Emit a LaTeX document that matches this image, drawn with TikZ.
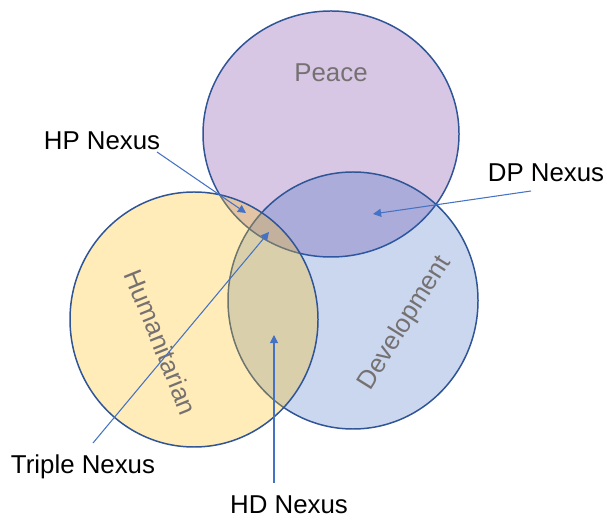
\documentclass[tikz,border=0pt]{standalone}
\usepackage{fontspec}
\setmainfont{Liberation Sans}
\usetikzlibrary{arrows.meta}

\definecolor{ringblue}{HTML}{2F5597}
\definecolor{arrowblue}{HTML}{4472C4}
\definecolor{peacefill}{HTML}{D7C7E5}
\definecolor{devfill}{HTML}{2B5FBB}
\definecolor{humfill}{HTML}{FFBF13}
\definecolor{labelgray}{HTML}{767171}

\tikzset{
  ring/.style={draw=ringblue, line width=0.85pt},
  pointer/.style={arrowblue, line width=0.6pt, -{Triangle[length=4.6pt,width=4.6pt]}},
  nexus/.style={font=\fontsize{14.7}{17}\selectfont, inner sep=0pt},
  setname/.style={text=labelgray, font=\fontsize{14.7}{17}\selectfont, inner sep=0pt}
}

\begin{document}
\begin{tikzpicture}[x=0.02cm, y=0.02cm]
  \useasboundingbox (0,0) rectangle (607,520);

  % Draw the three sets
  \draw[ring, fill=peacefill] (331,386) ellipse (128 and 123);
  \draw[ring, fill=devfill, fill opacity=0.25] (353,219.5) ellipse (125 and 128.5);
  \draw[ring, fill=humfill, fill opacity=0.3] (194,200.5) ellipse (124 and 127.5);

  \node[setname] (peace) at (331,447) {Peace};
  \node[setname, rotate=-68] (hum) at (161,178) {Humanitarian};
  \node[setname, rotate=58] (dev) at (405,197) {Development};

  % Nexus labels
  \node[nexus] (hp) at (102,379) {HP Nexus};
  \node[nexus] (dp) at (546,347) {DP Nexus};
  \node[nexus] (triple) at (83,53) {Triple Nexus};
  \node[nexus] (hd) at (289,15) {HD Nexus};

  % Pointers into the overlaps
  \coordinate (hp tail) at (157,368);
  \coordinate (hp tip) at (246,307);
  \coordinate (dp tail) at (531,329);
  \coordinate (dp tip) at (373,306);
  \coordinate (triple tail) at (93,77);
  \coordinate (triple tip) at (269,288);
  \coordinate (hd tail) at (274,37);
  \coordinate (hd tip) at (274,185);

  \draw[pointer] (hp tail) -- (hp tip);
  \draw[pointer] (dp tail) -- (dp tip);
  \draw[pointer] (triple tail) -- (triple tip);
  \draw[pointer] (hd tail) -- (hd tip);

\end{tikzpicture}
\end{document}
